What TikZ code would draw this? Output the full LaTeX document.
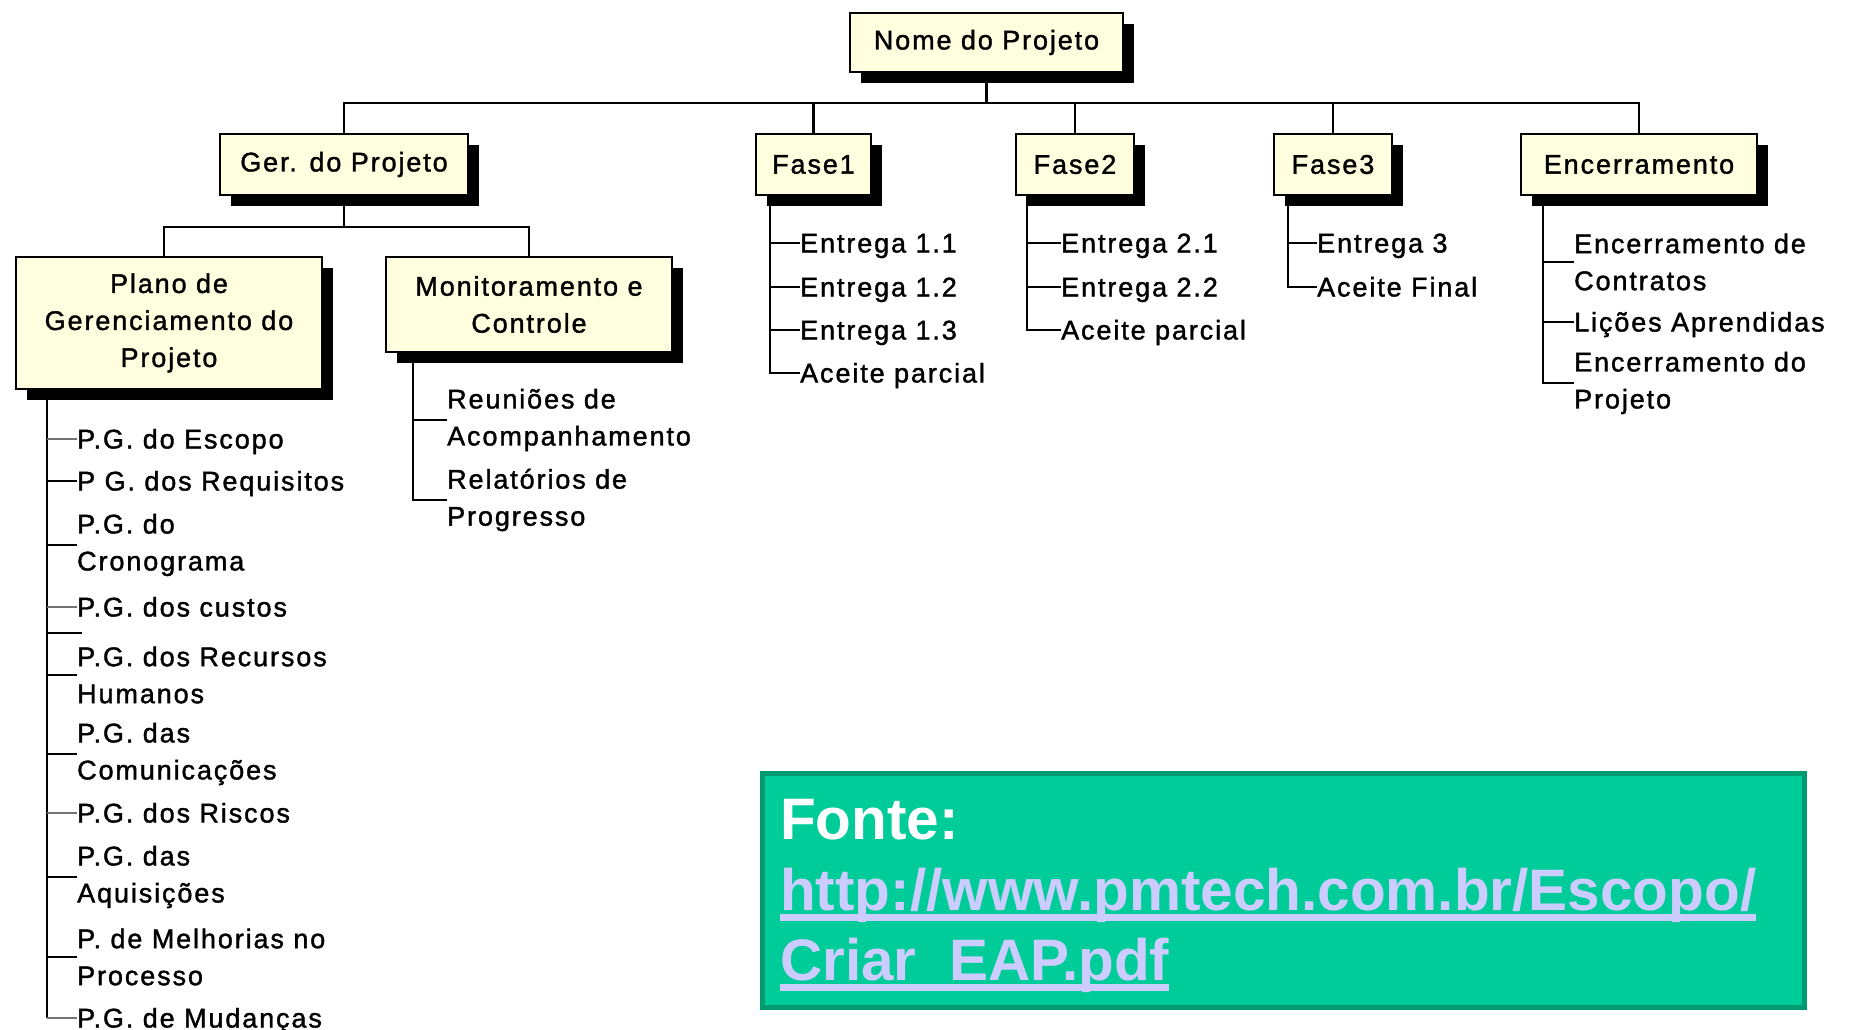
\documentclass[tikz,border=0pt]{standalone}
\usepackage{fontspec}
\setmainfont{Liberation Sans}
\newfontfamily\wbsf[LetterSpace=7,FakeBold=1.4]{Liberation Sans}
\usetikzlibrary{shadows}
\definecolor{cream}{HTML}{FFFFE0}
\definecolor{fgreen}{HTML}{00CC99}
\definecolor{fgreenD}{HTML}{009970}
\definecolor{lav}{HTML}{CCCCFF}
\newcommand\ulbar[1]{\setbox0=\hbox{#1}\rlap{\rule[-11pt]{\wd0}{7pt}}\box0}
\begin{document}
\begin{tikzpicture}[x=1pt,y=-1pt,
 wbsbox/.style={draw=black, line width=2.4pt, fill=cream, inner sep=0pt, align=center,
   font=\wbsf\fontsize{27}{37}\selectfont,
   drop shadow={shadow xshift=11pt, shadow yshift=-11pt, opacity=1, fill=black}},
 item/.style={anchor=west, inner sep=0pt, font=\wbsf\fontsize{27}{37}\selectfont, text height=19pt, text depth=0pt},
 mitem/.style={anchor=west, inner sep=0pt, align=left, font=\wbsf\fontsize{27}{37}\selectfont},
 link/.style={line width=2.8pt, black},
 glink/.style={line width=1.8pt, black!55},
 srctext/.style={anchor=base west, inner sep=0pt, font=\bfseries\fontsize{58.5}{70}\selectfont}]
\useasboundingbox (0,0) rectangle (1850,1030);

% boxes
\node[wbsbox, minimum width=273pt, minimum height=59pt] (root) at (986.5,42.5) {Nome do Projeto};
\node[wbsbox, minimum width=248pt, minimum height=61pt] (ger) at (344,164.5) {Ger. do Projeto};
\node[wbsbox, minimum width=115pt, minimum height=61pt] (f1) at (813.5,164.5) {Fase1};
\node[wbsbox, minimum width=118pt, minimum height=61pt] (f2) at (1075,164.5) {Fase2};
\node[wbsbox, minimum width=118pt, minimum height=61pt] (f3) at (1333,164.5) {Fase3};
\node[wbsbox, minimum width=236pt, minimum height=61pt] (enc) at (1639,164.5) {Encerramento};
\node[wbsbox, minimum width=306pt, minimum height=132pt] (plano) at (169,323) {Plano de\\Gerenciamento do\\Projeto};
\node[wbsbox, minimum width=286pt, minimum height=95pt] (mon) at (529,304.5) {Monitoramento e\\Controle};

% top level connectors
\coordinate (bus) at (0,103);
\draw[link] (root.south) -- (root.south |- bus);
\draw[link] (ger.north) -- (ger.north |- bus) -- (enc.north |- bus) -- (enc.north);
\foreach \n in {f1,f2,f3} \draw[link] (\n.north) -- (\n.north |- bus);

\coordinate (gbus) at (0,227);
\draw[link] (ger.south) -- (ger.south |- gbus);
\draw[link] ([xshift=-5pt]plano.north) -- ([xshift=-5pt]plano.north |- gbus) -- (mon.north |- gbus) -- (mon.north);

% trunk coordinates
\coordinate (pT) at (47,389);
\coordinate (mT) at (413,352);
\coordinate (f1T) at (770,195);
\coordinate (f2T) at (1027,195);
\coordinate (f3T) at (1288,195);
\coordinate (eT) at (1543,195);

% Plano list
\node[item]  (p1) at (77,439) {P.G. do Escopo};
\node[item]  (p2) at (77,481) {P G. dos Requisitos};
\node[mitem] (p3) at (77,545) {P.G. do\\Cronograma};
\node[item]  (p4) at (77,607) {P.G. dos custos};
\node[mitem] (p5) at (77,675) {P.G. dos Recursos\\Humanos};
\node[mitem] (p6) at (77,754) {P.G. das\\Comunicações};
\node[item]  (p7) at (77,813) {P.G. dos Riscos};
\node[mitem] (p8) at (77,877) {P.G. das\\Aquisições};
\node[mitem] (p9) at (77,957) {P. de Melhorias no\\Processo};
\node[item]  (p10) at (77,1018) {P.G. de Mudanças};
\coordinate (stray) at (82,633);
\draw[link] (pT) -- (pT |- p10.west);
\foreach \n in {p2,p3,p5,p6,p8,p9} \draw[link] (pT |- \n.west) -- (\n.west);
\foreach \n in {p1,p4,p7,p10} \draw[glink] (pT |- \n.west) -- (\n.west);
\draw[link] (pT |- stray) -- (stray);

% Monitoramento list
\node[mitem] (m1) at (447,420) {Reuniões de\\Acompanhamento};
\node[mitem] (m2) at (447,500) {Relatórios de\\Progresso};
\draw[link] (mT) |- (m2.west);
\draw[link] (mT |- m1.west) -- (m1.west);

% Fase1 list
\node[item] (a1) at (800,243) {Entrega 1.1};
\node[item] (a2) at (800,287) {Entrega 1.2};
\node[item] (a3) at (800,330) {Entrega 1.3};
\node[item] (a4) at (800,373) {Aceite parcial};
\draw[link] (f1T) |- (a4.west);
\foreach \n in {a1,a2,a3} \draw[link] (f1T |- \n.west) -- (\n.west);

% Fase2 list
\node[item] (b1) at (1061,243) {Entrega 2.1};
\node[item] (b2) at (1061,287) {Entrega 2.2};
\node[item] (b3) at (1061,330) {Aceite parcial};
\draw[link] (f2T) |- (b3.west);
\foreach \n in {b1,b2} \draw[link] (f2T |- \n.west) -- (\n.west);

% Fase3 list
\node[item] (c1) at (1317,243) {Entrega 3};
\node[item] (c2) at (1317,287) {Aceite Final};
\draw[link] (f3T) |- (c2.west);
\draw[link] (f3T |- c1.west) -- (c1.west);

% Encerramento list
\node[mitem] (e1) at (1574,262) {Encerramento de\\Contratos};
\node[item]  (e2) at (1574,322) {Lições Aprendidas};
\node[mitem] (e3) at (1574,383) {Encerramento do\\Projeto};
\draw[link] (eT) |- (e3.west);
\foreach \n in {e1,e2} \draw[link] (eT |- \n.west) -- (\n.west);

% source box
\node[draw=fgreenD, fill=fgreen, line width=5pt, minimum width=1042pt, minimum height=234pt, inner sep=0pt] (src) at (1283,890) {};
\node[srctext, text=white] (fonte) at (780,839) {Fonte:};
\node[srctext, text=lav] (url1) at (780,910) {\ulbar{http://www.pmtech.com.br/Escopo/}};
\node[srctext, text=lav] (url2) at (780,980) {\ulbar{Criar\_EAP.pdf}};
\end{tikzpicture}
\end{document}
